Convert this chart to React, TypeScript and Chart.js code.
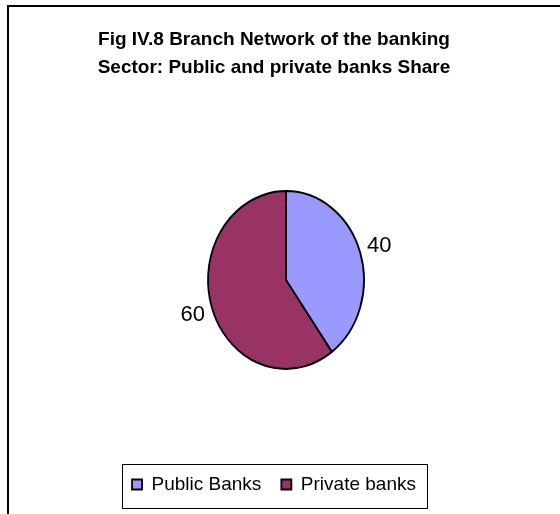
import React, { useEffect, useRef } from "react";
import { Chart, registerables } from "chart.js";

Chart.register(...registerables);

// ---- data ----
const categories = ["Public Banks", "Private banks"];
const shares = [40, 60];
const sliceColors = ["#9999FF", "#993366"];
const titleLines = [
  "Fig IV.8 Branch Network of the banking",
  "Sector: Public and private banks Share",
];

// ---- layout / style ----
const W = 560;
const H = 514;
const FONT = "'Liberation Sans', Arial, Helvetica, sans-serif";
const PIE_RADIUS = 78;
const PIE_SHIFT_X = 12;
const PIE_SCALE_Y = 1.14;
const LABEL_GAP = 20;

const ellipsePie = {
  id: "ellipsePie",
  beforeDatasetsDraw(chart: any) {
    const arc = chart.getDatasetMeta(0).data[0];
    const ctx = chart.ctx;
    ctx.save();
    if (!arc) return;
    ctx.translate(arc.x + PIE_SHIFT_X, arc.y);
    ctx.scale(1, PIE_SCALE_Y);
    ctx.translate(-arc.x, -arc.y);
  },
  afterDatasetsDraw(chart: any) {
    const ctx = chart.ctx;
    ctx.restore();
    const meta = chart.getDatasetMeta(0);
    ctx.save();
    ctx.font = `22px ${FONT}`;
    ctx.fillStyle = "#000";
    ctx.textAlign = "center";
    ctx.textBaseline = "middle";
    meta.data.forEach((arc: any, i: number) => {
      const p = arc.getProps(["x", "y", "startAngle", "endAngle", "outerRadius"], true);
      const mid = (p.startAngle + p.endAngle) / 2;
      const r = p.outerRadius + LABEL_GAP;
      const lx = p.x + PIE_SHIFT_X + Math.cos(mid) * r;
      const ly = p.y + Math.sin(mid) * r * PIE_SCALE_Y;
      ctx.fillText(String(shares[i]), lx, ly);
    });
    ctx.restore();
  },
};

const legendFrame = {
  id: "legendFrame",
  afterDraw(chart: any) {
    const hb = chart.legend?.legendHitBoxes;
    if (!hb || !hb.length) return;
    const first = hb[0];
    const last = hb[hb.length - 1];
    const left = Math.round(first.left - 10) + 0.5;
    const right = Math.round(last.left + last.width + 11) + 0.5;
    const top = Math.round(first.top - 11.5) + 0.5;
    const bottom = Math.round(first.top + first.height + 13.5) + 0.5;
    const ctx = chart.ctx;
    ctx.save();
    ctx.strokeStyle = "#000";
    ctx.lineWidth = 1;
    ctx.strokeRect(left, top, right - left, bottom - top);
    ctx.restore();
  },
};

export default function App() {
  const ref = useRef<HTMLCanvasElement | null>(null);

  useEffect(() => {
    if (!ref.current) return;
    const chart = new Chart(ref.current, {
      type: "pie",
      data: {
        labels: categories,
        datasets: [
          {
            data: shares,
            backgroundColor: sliceColors,
            borderColor: "#000",
            borderWidth: 1.8,
            radius: PIE_RADIUS,
            clip: false,
          } as any,
        ],
      },
      options: {
        responsive: false,
        animation: false,
        layout: { padding: { top: 12, left: 0, right: 12, bottom: 10 } },
        plugins: {
          title: {
            display: true,
            text: titleLines,
            color: "#000",
            font: { family: FONT, size: 19, weight: "bold", lineHeight: 28 / 19 },
            padding: { top: 14, bottom: 23 },
          },
          legend: {
            position: "bottom",
            labels: {
              color: "#000",
              font: { family: FONT, size: 19 },
              boxWidth: 10,
              boxHeight: 10,
              padding: 20,
            },
          },
          tooltip: { enabled: false },
        },
      } as any,
      plugins: [ellipsePie, legendFrame],
    });
    return () => chart.destroy();
  }, []);

  return (
    <div
      style={{
        position: "fixed",
        left: 0,
        top: 0,
        width: W,
        height: H,
        background: "#fff",
        overflow: "hidden",
      }}
    >
      <canvas ref={ref} width={W} height={H} style={{ display: "block", width: W, height: H }} />
      <div
        style={{
          position: "absolute",
          left: 7,
          top: 5,
          width: W + 40,
          height: H + 40,
          borderTop: "2px solid #000",
          borderLeft: "2px solid #000",
          pointerEvents: "none",
        }}
      />
    </div>
  );
}
